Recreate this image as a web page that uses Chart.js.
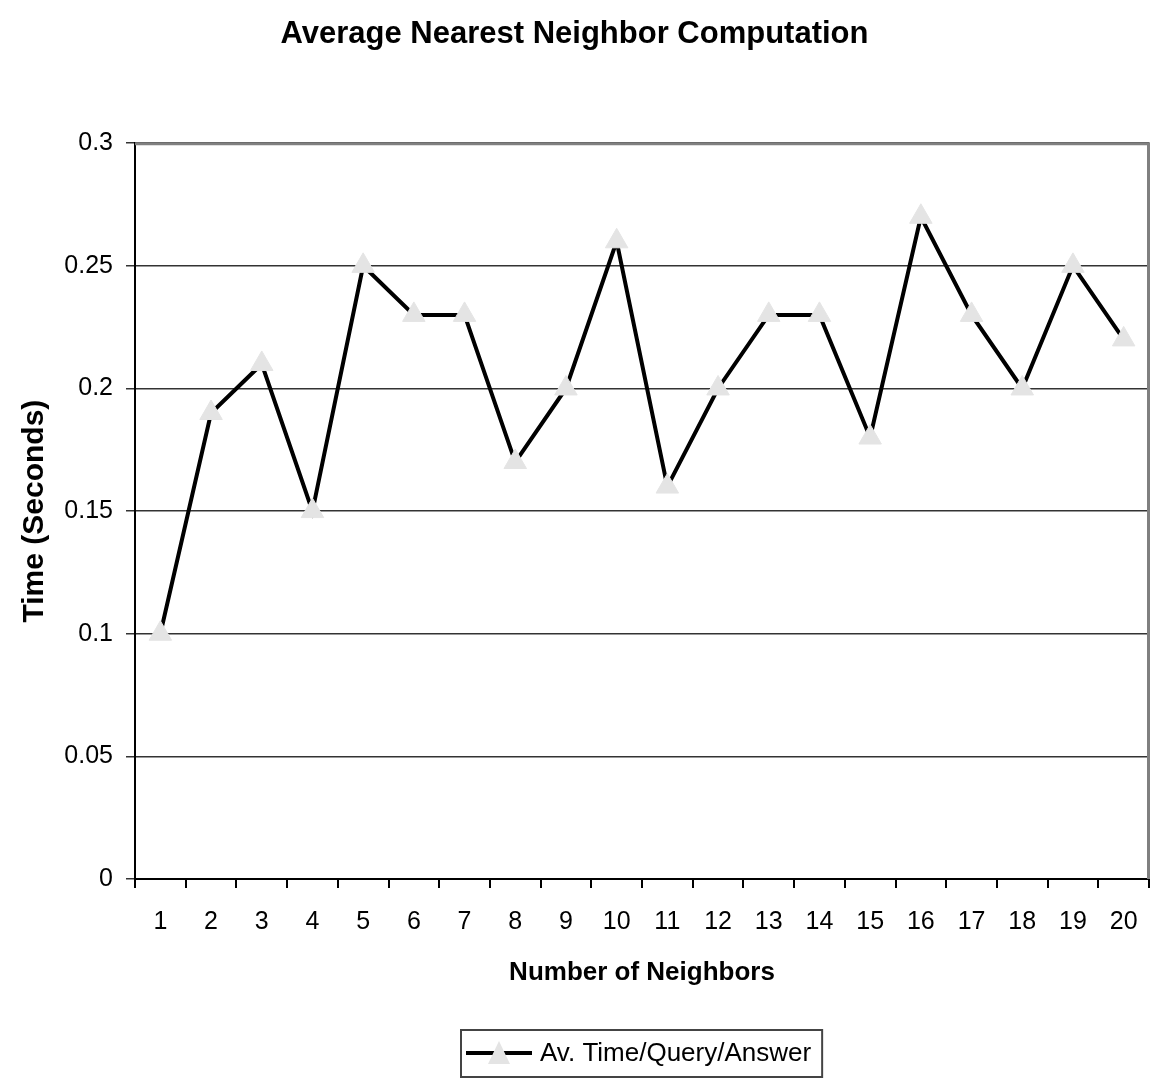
<!DOCTYPE html>
<html>
<head>
<meta charset="utf-8">
<script src="https://cdn.jsdelivr.net/npm/chart.js@4.4.1/dist/chart.umd.min.js"></script>
<style>
  html, body { margin: 0; padding: 0; background: #fff; }
  #wrap { width: 1151px; height: 1087px; }
</style>
</head>
<body>
<div id="wrap"><canvas id="nnChart" width="1151" height="1087"></canvas></div>
<script>
// ---- data ----
const neighbors = ['1','2','3','4','5','6','7','8','9','10','11','12','13','14','15','16','17','18','19','20'];
const avgTime = [0.10, 0.19, 0.21, 0.15, 0.25, 0.23, 0.23, 0.17, 0.20, 0.26, 0.16, 0.20, 0.23, 0.23, 0.18, 0.27, 0.23, 0.20, 0.25, 0.22];
const yTicks = [0, 0.05, 0.1, 0.15, 0.2, 0.25, 0.3];
const seriesName = 'Av. Time/Query/Answer';

const FONT = "'Liberation Sans', Arial, Helvetica, sans-serif";
const MARKER = '#e4e4e4';

// gray frame on top/right of plot + hand drawn boxed legend under the x title
const framePlugin = {
    id: 'frame',
    beforeDatasetsDraw: function(chart) {
        var a = chart.chartArea, ctx = chart.ctx;
        ctx.save();
        ctx.strokeStyle = '#808080'; ctx.lineWidth = 3;
        ctx.beginPath();
        ctx.moveTo(a.left, a.top + 0.5); ctx.lineTo(a.right - 0.5, a.top + 0.5); ctx.lineTo(a.right - 0.5, a.bottom);
        ctx.stroke();
        ctx.restore();
    },
    afterDraw: function(chart) {
        var a = chart.chartArea, ctx = chart.ctx;
        var cx = (a.left + a.right) / 2, cy = chart.height - 34;
        ctx.save();
        ctx.font = '26px ' + FONT;
        var tw = ctx.measureText(seriesName).width;
        var symW = 66, gap = 8, pad = 5;
        var w = pad + symW + gap + tw + pad + 6;
        var x0 = Math.round(cx - w / 2);
        // box
        ctx.strokeStyle = '#444'; ctx.lineWidth = 2;
        ctx.strokeRect(x0, cy - 23, w, 47);
        // symbol
        var sx = x0 + pad;
        ctx.strokeStyle = '#000'; ctx.lineWidth = 4;
        ctx.beginPath(); ctx.moveTo(sx, cy); ctx.lineTo(sx + symW, cy); ctx.stroke();
        ctx.fillStyle = MARKER;
        ctx.beginPath();
        ctx.moveTo(sx + symW / 2, cy - 12); ctx.lineTo(sx + symW / 2 + 11, cy + 11); ctx.lineTo(sx + symW / 2 - 11, cy + 11);
        ctx.closePath(); ctx.fill();
        // text
        ctx.fillStyle = '#000'; ctx.textBaseline = 'middle'; ctx.textAlign = 'left';
        ctx.fillText(seriesName, sx + symW + gap, cy + 1);
        ctx.restore();
    }
};

new Chart(document.getElementById('nnChart').getContext('2d'), {
    type: 'line',
    data: {
        labels: neighbors,
        datasets: [{
            label: seriesName,
            data: avgTime,
            borderColor: '#000',
            borderWidth: 4,
            tension: 0,
            pointStyle: 'triangle',
            pointRadius: 13,
            pointBackgroundColor: MARKER,
            pointBorderColor: MARKER,
            pointBorderWidth: 1
        }]
    },
    options: {
        responsive: false,
        animation: false,
        devicePixelRatio: 1,
        layout: { autoPadding: false, padding: { left: 0, right: 2, top: 0, bottom: 57 } },
        plugins: {
            title: {
                display: true,
                text: 'Average Nearest Neighbor Computation',
                color: '#000',
                font: { family: FONT, size: 31, weight: 'bold' },
                padding: { top: 16, bottom: 90 }
            },
            legend: { display: false },
            tooltip: { enabled: false }
        },
        scales: {
            x: {
                offset: true,
                afterFit: function(scale) { scale.height = 151; scale.paddingLeft = 0; scale.paddingRight = 0; },
                grid: { offset: true, drawOnChartArea: false, color: '#000', lineWidth: 2, tickLength: 9 },
                border: { color: '#000', width: 2 },
                ticks: { color: '#000', font: { family: FONT, size: 25 }, padding: 19, maxRotation: 0, autoSkip: false },
                title: { display: true, text: 'Number of Neighbors', color: '#000', font: { family: FONT, size: 26, weight: 'bold' }, padding: { top: 0, bottom: 42 } }
            },
            y: {
                min: 0, max: 0.3,
                afterBuildTicks: function(scale) { scale.ticks = yTicks.map(function(v) { return { value: v }; }); },
                afterFit: function(scale) { scale.width = 135; },
                grid: { color: '#333', lineWidth: 1.5, tickLength: 9 },
                border: { color: '#000', width: 2 },
                ticks: { color: '#000', font: { family: FONT, size: 25 }, padding: 13, callback: function(v) { return String(+v.toFixed(2)); } },
                title: { display: true, text: 'Time (Seconds)', color: '#000', font: { family: FONT, size: 30, weight: 'bold' }, padding: { top: 17, bottom: 0 } }
            }
        }
    },
    plugins: [framePlugin]
});
</script>
</body>
</html>
